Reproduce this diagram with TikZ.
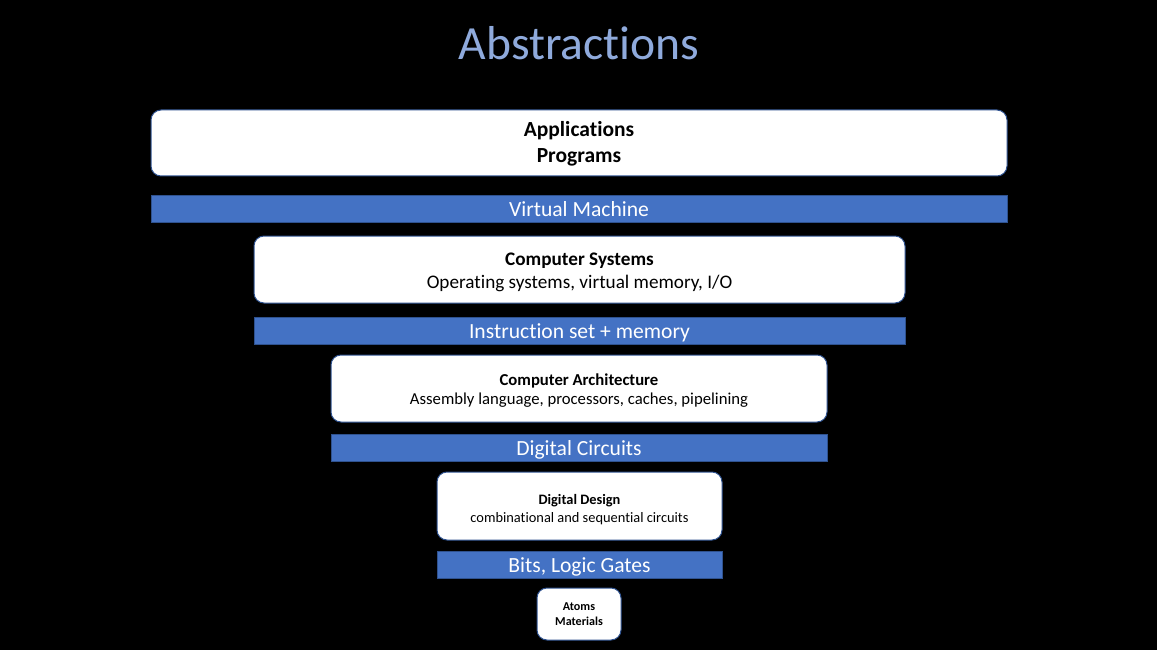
\documentclass[tikz,border=0pt]{standalone}
\usepackage{fontspec}
\setmainfont{Carlito}[Ligatures=NoCommon]
\newcommand{\toppad}[1]{\rule{0pt}{\dimexpr0.72em+#1\relax}}
\begin{document}
\begin{tikzpicture}[x=1pt,y=-1pt,
  layerbox/.style={draw=boxedge, fill=white, rounded corners=10pt, line width=1pt, inner sep=0pt, align=center, text=black},
  layerbar/.style={draw=boxedge, fill=barblue, line width=0.8pt, inner sep=0pt, align=center, text=white, minimum height=27pt, text height=16pt, text depth=0pt, font=\fontsize{21.6}{26}\selectfont},
]
\definecolor{boxedge}{HTML}{2F528F}
\definecolor{barblue}{HTML}{4472C4}
\definecolor{titleblue}{HTML}{8FAADC}
\fill[black] (0,0) rectangle (1157,650);
\useasboundingbox (0,0) rectangle (1157,650);

\node[anchor=base, text=titleblue, font=\fontsize{47.6}{56}\selectfont] (title) at (579,59.5) {Abstractions};

\node[layerbox, minimum width=856pt, minimum height=66pt, font=\fontsize{21.5}{26}\selectfont\bfseries] (apps) at (579,143) {\toppad{2pt}Applications\\Programs};
\node[layerbar, minimum width=856pt] (vm) at (579,208.5) {Virtual Machine};

\node[layerbox, minimum width=651pt, minimum height=67pt, font=\fontsize{19.2}{23}\selectfont] (sys) at (579.5,269.5) {\toppad{4pt}\textbf{Computer Systems}\\Operating systems, virtual memory, I/O};
\node[layerbar, minimum width=651pt] (isa) at (579.5,330.5) {Instruction set + memory};

\node[layerbox, minimum width=496pt, minimum height=67pt, font=\fontsize{16.7}{19.8}\selectfont] (arch) at (579,388.5) {\toppad{4pt}\textbf{Computer Architecture}\\Assembly language, processors, caches, pipelining};
\node[layerbar, minimum width=496pt] (circ) at (579,447.5) {Digital Circuits};

\node[layerbox, minimum width=285pt, minimum height=68pt, font=\fontsize{14.4}{18}\selectfont] (design) at (579.5,506) {\toppad{6pt}\textbf{Digital Design}\\combinational and sequential circuits};
\node[layerbar, minimum width=285pt] (gates) at (579.5,564.5) {Bits, Logic Gates};

\node[layerbox, minimum width=84pt, minimum height=52pt, font=\fontsize{12.1}{15}\selectfont\bfseries] (atoms) at (579,614) {Atoms\\Materials};
\end{tikzpicture}
\end{document}
